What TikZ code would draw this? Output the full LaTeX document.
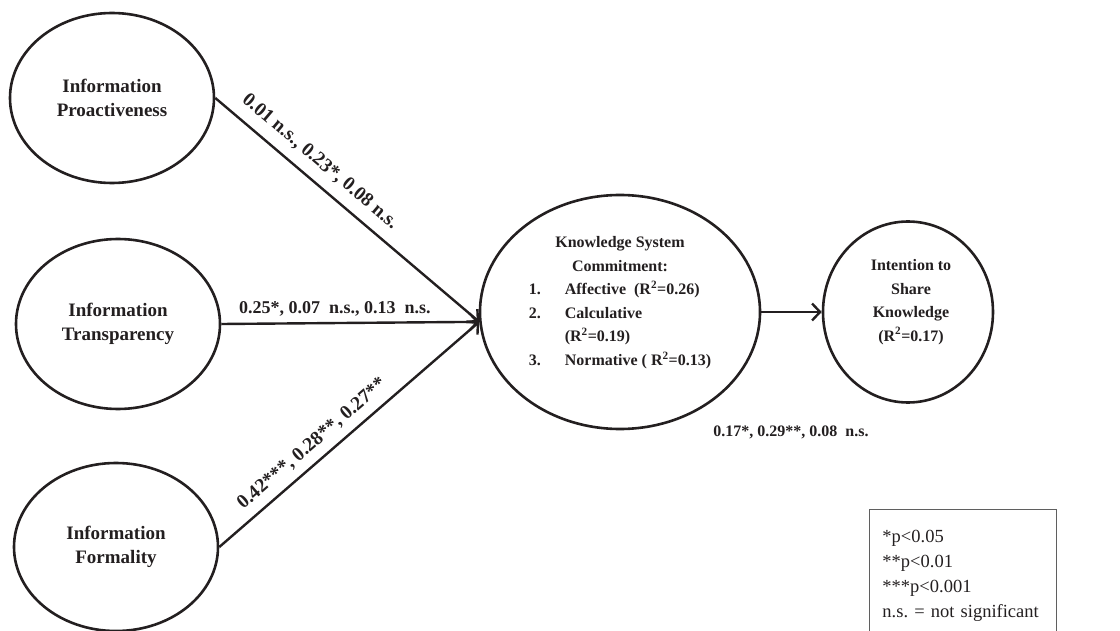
\documentclass[tikz,border=0pt]{standalone}
\usepackage{fontspec}
\setmainfont{Liberation Serif}
\usepackage{tikz}
\usetikzlibrary{arrows.meta,positioning,shapes.geometric}
\definecolor{ink}{RGB}{35,31,32}
\definecolor{frame}{RGB}{95,95,95}
\tikzset{
  lat/.style={ellipse,draw=ink,line width=2.6pt,inner sep=0pt,align=center,
    font=\fontsize{19}{24}\selectfont\bfseries,text=ink},
  latxt/.style={align=center,inner sep=0pt,font=\fontsize{16}{23.5}\selectfont\bfseries,text=ink},
  arr/.style={-{Straight Barb[length=8pt,width=17pt]},line width=2.4pt,draw=ink},
  coef/.style={font=\fontsize{18}{22}\selectfont\bfseries,text=ink,inner sep=2pt},
  tilt/.style={coef,sloped,font=\fontsize{19.5}{24}\selectfont\bfseries},
  note/.style={draw=frame,line width=0.9pt,align=left,inner xsep=13pt,inner ysep=21pt,
    text width=161pt,font=\fontsize{18.5}{25}\selectfont,text=ink},
}

\begin{document}
\frenchspacing
\begin{tikzpicture}[x=1pt,y=-1pt]
  \useasboundingbox (0,0) rectangle (1120,631);
  \clip (0,0) rectangle (1120,631);

  % antecedents
  \node[lat,minimum width=204pt,minimum height=170pt] (ip) at (112,98) {Information\\Proactiveness};
  \node[lat,minimum width=204pt,minimum height=170pt] (it) at (118,324) {Information\\Transparency};
  \node[lat,minimum width=204pt,minimum height=168pt] (if) at (116,547) {Information\\Formality};

  % mediator and outcome
  \node[lat,minimum width=280pt,minimum height=234pt] (ksc) at (620,312) {};
  \node[latxt] (ksctxt) at ([yshift=10pt]ksc.center) {%
    \begin{tabular}{@{}p{36pt}@{}l@{}}
      \multicolumn{2}{c}{Knowledge System}\\
      \multicolumn{2}{c}{Commitment:}\\
      1. & Affective\ \ (R\textsuperscript{2}=0.26)\\
      2. & Calculative\\
         & (R\textsuperscript{2}=0.19)\\
      3. & Normative ( R\textsuperscript{2}=0.13)
    \end{tabular}};
  \node[lat,minimum width=170pt,minimum height=181pt] (isk) at (908,312) {};
  \node[latxt] (isktxt) at ([xshift=3pt,yshift=10pt]isk.center)
    {Intention to\\Share\\Knowledge\\(R\textsuperscript{2}=0.17)};

  % paths
  \draw[arr] (ip.east) -- node[tilt,above=8pt,pos=0.35] (c1) {0.01 n.s., 0.23*, 0.08 n.s.} (ksc.184);
  \draw[arr] (it.east) -- node[coef,above=4pt,pos=0.44] (c2) {0.25*, 0.07\ \ n.s., 0.13\ \ n.s.} (ksc.184);
  \draw[arr] (if.east) -- node[tilt,above=6pt,pos=0.40] (c3) {0.42***, 0.28**, 0.27**} (ksc.184);
  \draw[arr] (ksc.east) -- (isk.west);
  \node[coef,font=\fontsize{16}{20}\selectfont\bfseries] (c4) at (791,432) {0.17*, 0.29**, 0.08\ \ n.s.};

  % legend
  \node[note,anchor=north west] (key) at (869,509)
    {*p<0.05\\{}**p<0.01\\{}***p<0.001\\n.s. = not significant};
\end{tikzpicture}
\end{document}
